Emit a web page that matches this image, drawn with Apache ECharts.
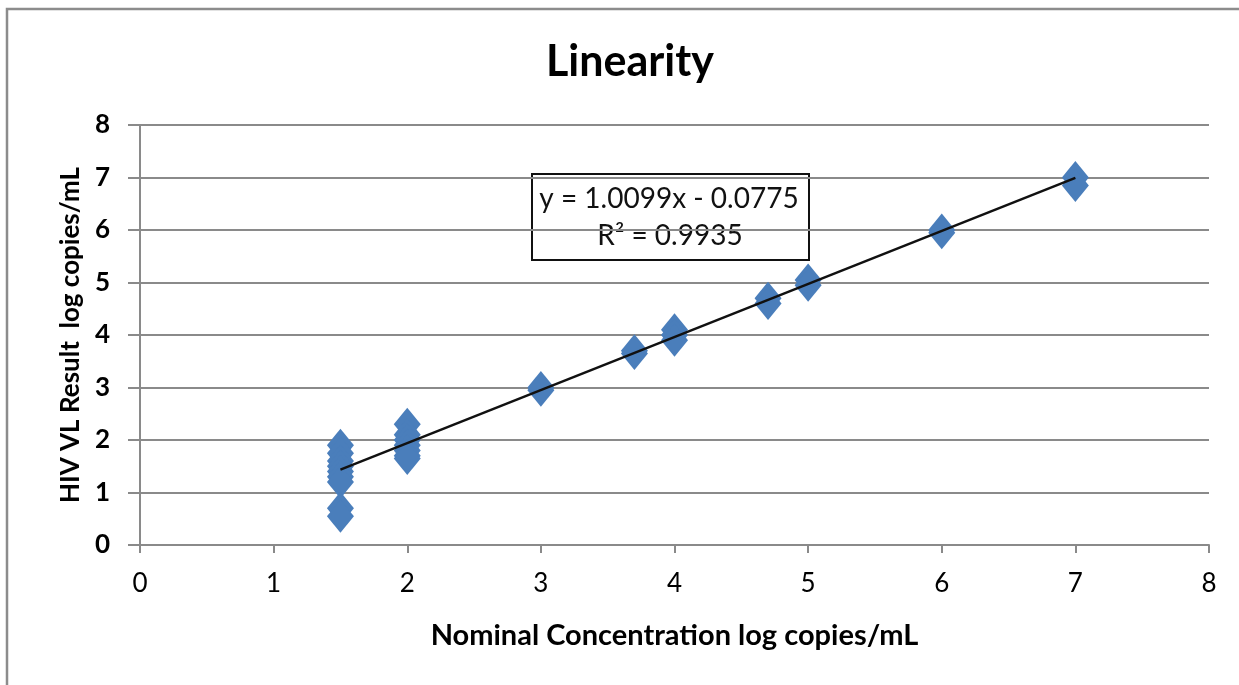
<!DOCTYPE html>
<html>
<head>
<meta charset="utf-8">
<title>Linearity</title>
<script src="https://cdn.jsdelivr.net/npm/echarts@6/dist/echarts.min.js"></script>
<style>
  html, body { margin: 0; padding: 0; background: #fff; }
  #chart { width: 1239px; height: 685px; }
</style>
</head>
<body>
<div id="chart"></div>
<script>
// Nominal concentration (x) and measured result (y), log copies/mL
const nominalX = [
  1.5, 1.5, 1.5, 1.5, 1.5, 1.5, 1.5, 1.5, 1.5,
  2, 2, 2, 2, 2, 2, 2,
  3, 3,
  3.7, 3.7,
  4, 4, 4,
  4.7, 4.7,
  5, 5,
  6, 6,
  7, 7
];
const measuredY = [
  1.9, 1.75, 1.6, 1.5, 1.4, 1.3, 1.2, 0.7, 0.55,
  2.3, 2.1, 2.0, 1.9, 1.8, 1.7, 1.65,
  2.95, 3.0,
  3.65, 3.7,
  4.1, 4.0, 3.9,
  4.7, 4.6,
  5.05, 4.95,
  6.0, 5.95,
  7.0, 6.85
];

// Linear trendline endpoints
const trendX = [1.5, 7];
const trendY = [1.437, 6.992];

const equationText = 'y = 1.0099x - 0.0775';
const r2Text = 'R² = 0.9935';

const axisTicks = [0, 1, 2, 3, 4, 5, 6, 7, 8];

const font = 'Lato, "Open Sans", sans-serif';
const gridColor = '#8a8a8a';

const chart = echarts.init(document.getElementById('chart'));

chart.setOption({
  animation: false,
  textStyle: { fontFamily: font },
  title: {
    text: 'Linearity',
    left: 541,
    top: 36,
    textStyle: { fontSize: 43, fontWeight: 'bold', color: '#000', fontFamily: font }
  },
  grid: { left: 140, right: 30, top: 125, bottom: 140 },
  xAxis: {
    type: 'value',
    min: axisTicks[0],
    max: axisTicks[axisTicks.length - 1],
    interval: 1,
    name: 'Nominal Concentration log copies/mL',
    nameLocation: 'middle',
    nameGap: 76,
    nameTextStyle: { fontSize: 29, fontWeight: 'bold', color: '#000', fontFamily: font },
    axisLine: { show: true, lineStyle: { color: gridColor, width: 2 } },
    axisTick: { show: true, length: 8, lineStyle: { color: gridColor, width: 2 } },
    axisLabel: { fontSize: 26, color: '#000', margin: 26, fontFamily: font },
    splitLine: { show: false }
  },
  yAxis: {
    type: 'value',
    min: axisTicks[0],
    max: axisTicks[axisTicks.length - 1],
    interval: 1,
    name: 'HIV VL Result  log copies/mL',
    nameLocation: 'middle',
    nameGap: 56,
    nameTextStyle: { fontSize: 26, fontWeight: 'bold', color: '#000', fontFamily: font },
    axisLine: { show: true, lineStyle: { color: gridColor, width: 2 } },
    axisTick: { show: true, length: 12, lineStyle: { color: gridColor, width: 2 } },
    axisLabel: { fontSize: 26, fontWeight: 'bold', color: '#000', margin: 30, fontFamily: font },
    splitLine: { show: true, lineStyle: { color: gridColor, width: 2 } }
  },
  series: [
    {
      type: 'scatter',
      symbol: 'diamond',
      symbolSize: [27, 33],
      itemStyle: { color: '#4a7ebb', opacity: 1 },
      data: nominalX.map((x, i) => [x, measuredY[i]]),
      z: 2
    },
    {
      type: 'line',
      data: trendX.map((x, i) => [x, trendY[i]]),
      symbol: 'none',
      lineStyle: { color: '#111', width: 2.5 },
      z: 3
    }
  ],
  graphic: [
    {
      type: 'rect',
      shape: { x: 7, y: 9, width: 1250, height: 700 },
      style: { fill: null, stroke: '#8c8c8c', lineWidth: 2.5 },
      silent: true
    },
    {
      type: 'group',
      left: 531,
      top: 173,
      z: 10,
      children: [
        {
          type: 'rect',
          shape: { x: 0, y: 0, width: 277, height: 86 },
          style: { fill: '#fff', stroke: '#111', lineWidth: 2 }
        },
        {
          type: 'text',
          style: {
            x: 137, y: 25, text: equationText,
            font: '28px ' + font, fill: '#111',
            align: 'center', verticalAlign: 'middle'
          }
        },
        {
          type: 'text',
          style: {
            x: 138, y: 62, text: r2Text,
            font: '28px ' + font, fill: '#111',
            align: 'center', verticalAlign: 'middle'
          }
        }
      ]
    }
  ]
});
</script>
</body>
</html>
